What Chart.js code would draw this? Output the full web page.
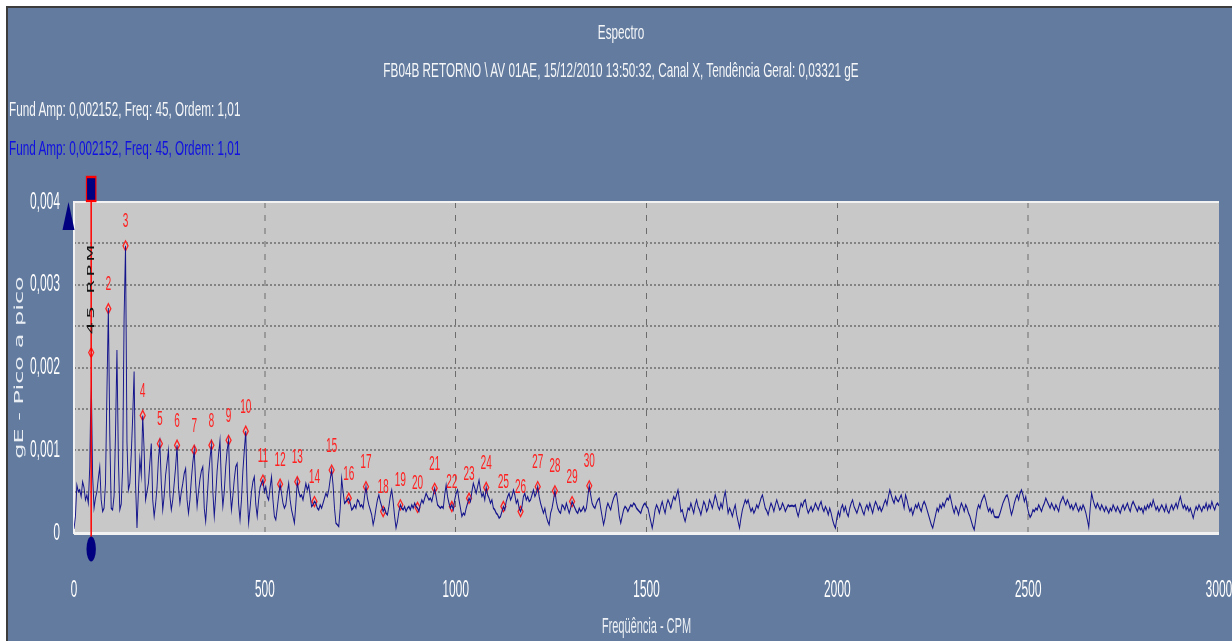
<!DOCTYPE html>
<html>
<head>
<meta charset="utf-8">
<title>Espectro</title>
<script src="https://cdn.jsdelivr.net/npm/chart.js@4.4.0/dist/chart.umd.min.js"></script>
<style>
  html, body { margin: 0; padding: 0; width: 1232px; height: 641px; overflow: hidden; background: #ffffff; }
  #frame { position: absolute; left: 6px; top: 6px; width: 1226px; height: 635px; box-sizing: border-box;
           background: #637b9e; border-left: 2px solid #3c3c3c; border-top: 2px solid #3c3c3c; }
  #stage { position: absolute; left: 0; top: 0; height: 641px; transform-origin: 0 0; }
  #stage canvas { position: absolute; left: 0; top: 0; }
  .txt { position: absolute; white-space: nowrap; font-family: "Liberation Sans", Arial, sans-serif;
         font-size: 21px; line-height: 24px; color: #f4f6f8; transform-origin: 0 0; transform: scaleX(1.12); }
  #title, #subtitle { transform: scaleX(1.12) translateX(-50%); }
  #info2 { color: #1010e0; }
</style>
</head>
<body>
<div id="frame"></div>
<div id="stage">
  <canvas id="spectrum"></canvas>
  <div class="txt" id="title">Espectro</div>
  <div class="txt" id="subtitle">FB04B RETORNO \ AV 01AE, 15/12/2010 13:50:32, Canal X, Tendência Geral: 0,03321 gE</div>
  <div class="txt" id="info1">Fund Amp: 0,002152, Freq: 45, Ordem: 1,01</div>
  <div class="txt" id="info2">Fund Amp: 0,002152, Freq: 45, Ordem: 1,01</div>
</div>
<script>
// spectrum lines every 3.75 CPM, amplitudes in units of 0.00001 gE
const spectrumStep = 3.75;

// 0 - 495 CPM
const ampA = [
  5, 20, 58, 50, 52, 44, 62, 55, 40, 46, 36, 80,
  193, 70, 30, 42, 50, 66, 80, 40, 26, 30, 60, 170,
  272, 120, 30, 28, 45, 120, 221, 90, 28, 35, 80, 260,
  347, 110, 52, 60, 95, 140, 195, 60, 6, 50, 90, 70,
  142, 100, 40, 50, 60, 85, 108, 40, 20, 35, 55, 90,
  108, 60, 28, 45, 70, 85, 100, 45, 28, 40, 60, 80,
  106, 55, 36, 50, 60, 72, 78, 40, 24, 40, 65, 85,
  100, 60, 32, 50, 65, 75, 80, 30, 14, 40, 70, 90,
  106, 50, 20, 45, 75, 95, 112, 60, 32, 50, 80, 100,
  112, 55, 28, 45, 65, 80, 84, 35, 16, 40, 75, 100,
  123, 50, 12, 30, 50, 62, 68, 35, 20, 40, 55, 60,
  64
];
// 498.75 - 997.5 CPM
const ampB = [
  50, 56, 44, 40, 55, 68, 40, 20, 16, 30,
  45, 59, 48, 36, 30, 34, 48, 60, 40, 28,
  20, 12, 35, 62, 50, 44, 46, 40, 50, 60,
  52, 58, 44, 32, 34, 38, 36, 30, 28, 34,
  30, 36, 42, 48, 44, 52, 65, 76, 58, 30,
  12, 10, 8, 30, 66, 50, 36, 38, 40, 42,
  36, 28, 30, 34, 30, 40, 38, 32, 34, 30,
  44, 56, 42, 34, 28, 22, 10, 18, 30, 40,
  46, 38, 32, 26, 30, 24, 22, 32, 44, 52,
  38, 20, 6, 14, 26, 34, 30, 28, 32, 26,
  30, 32, 28, 34, 30, 36, 32, 30, 26, 34,
  40, 36, 42, 48, 44, 40, 42, 38, 46, 54,
  44, 34, 32, 30, 32, 30, 46, 58, 44, 36,
  30, 34, 28, 40
];
// 1001.25 - 1500 CPM
const ampC = [
  48, 52, 40, 30, 20, 24, 22, 30, 36, 42,
  38, 50, 60, 54, 48, 56, 64, 52, 44, 48,
  40, 55, 46, 42, 36, 40, 30, 28, 24, 22,
  18, 20, 26, 32, 28, 38, 44, 48, 40, 44,
  52, 46, 36, 40, 30, 26, 32, 44, 48, 40,
  44, 38, 40, 46, 52, 44, 48, 56, 44, 36,
  30, 24, 30, 20, 14, 10, 24, 30, 40, 51,
  38, 30, 26, 24, 34, 32, 28, 36, 30, 24,
  30, 38, 34, 30, 26, 24, 30, 26, 28, 32,
  26, 30, 44, 57, 46, 36, 32, 30, 36, 40,
  42, 30, 20, 10, 18, 30, 36, 32, 28, 36,
  42, 46, 48, 36, 20, 12, 20, 28, 32, 30,
  26, 30, 34, 32, 36, 34, 30, 28, 26, 24,
  30, 34, 36, 32
];
// 1503.75 - 2250 CPM
const ampD = [
  30, 22, 14, 6, 16, 28, 34, 30, 24, 32,
  38, 30, 24, 34, 40, 36, 30, 38, 44, 40,
  46, 52, 40, 26, 28, 20, 14, 22, 30, 28,
  36, 30, 24, 34, 40, 32, 28, 22, 30, 38,
  34, 26, 30, 40, 36, 30, 38, 46, 40, 32,
  28, 36, 30, 42, 50, 38, 24, 30, 26, 20,
  28, 34, 22, 14, 6, 18, 28, 34, 40, 36,
  40, 32, 26, 30, 24, 28, 34, 30, 36, 42,
  46, 38, 30, 27, 22, 30, 36, 32, 26, 34,
  40, 34, 28, 30, 36, 32, 26, 30, 34, 32,
  33, 33, 32, 34, 26, 20, 28, 36, 32, 38,
  40, 30, 24, 28, 32, 26, 30, 36, 32, 28,
  34, 38, 30, 26, 32, 28, 22, 30, 24, 16,
  10, 6, 18, 26, 20, 30, 34, 26, 32, 24,
  20, 30, 36, 40, 32, 28, 24, 30, 36, 32,
  26, 22, 30, 34, 28, 36, 30, 24, 32, 38,
  34, 28, 32, 26, 30, 36, 40, 34, 44, 52,
  46, 40, 36, 44, 40, 38, 42, 46, 38, 30,
  46, 40, 32, 26, 30, 22, 28, 34, 30, 36,
  30, 26, 34, 38, 34, 28, 22, 16, 10, 6
];
// 2253.75 - 3000 CPM
const ampE = [
  14, 22, 30, 26, 34, 30, 36, 32, 38, 42,
  40, 46, 38, 30, 24, 32, 28, 22, 30, 36,
  32, 26, 34, 30, 24, 20, 14, 8, 4, 16,
  28, 34, 30, 38, 42, 46, 40, 32, 26, 30,
  24, 28, 20, 19, 19, 19, 24, 30, 36, 40,
  44, 46, 40, 30, 22, 28, 36, 42, 46, 40,
  48, 52, 46, 38, 44, 32, 24, 19, 22, 28,
  26, 30, 28, 34, 30, 26, 32, 36, 42, 38,
  34, 30, 36, 32, 28, 34, 30, 26, 36, 40,
  44, 38, 34, 40, 36, 30, 34, 28, 32, 36,
  30, 26, 32, 28, 34, 30, 24, 16, 7, 30,
  48, 40, 34, 30, 36, 32, 28, 34, 30, 26,
  32, 28, 24, 30, 27, 34, 30, 26, 32, 28,
  24, 30, 34, 28, 32, 36, 30, 26, 34, 38,
  34, 30, 26, 32, 28, 30, 24, 32, 28, 34,
  30, 36, 32, 40, 34, 28, 32, 26, 30, 34,
  30, 26, 34, 27, 24, 30, 34, 28, 32, 36,
  30, 38, 44, 36, 30, 34, 28, 32, 26, 30,
  24, 18, 26, 32, 28, 34, 30, 26, 32, 30,
  36, 28, 34, 30, 38, 32, 28, 34, 36, 33
];

// harmonic markers (order, CPM, amplitude in 0.00001 gE)
const orders = [1, 2, 3, 4, 5, 6, 7, 8, 9, 10, 11, 12, 13, 14, 15,
                16, 17, 18, 19, 20, 21, 22, 23, 24, 25, 26, 27, 28, 29, 30];
const orderFreqs = [45, 90, 135, 180, 225, 270, 315, 360, 405, 450, 495, 540, 585, 630, 675,
                    720, 765, 810, 855, 900, 945, 990, 1035, 1080, 1125, 1170, 1215, 1260, 1305, 1350];
const orderAmps = [218, 271, 347, 142, 108, 106, 100, 106, 112, 123, 64, 59, 62, 38, 76,
                   42, 56, 26, 34, 31, 54, 32, 42, 55, 32, 26, 56, 51, 38, 57];

const cursorFreq = 45;
const cursorLabel = '45 RPM';
const xTicks = [0, 500, 1000, 1500, 2000, 2500, 3000];

// the source picture is squeezed horizontally, so the chart is drawn wide and scaled down
const SQUEEZE = 0.5;
const PAGE_W = 1232, PAGE_H = 641;
const STAGE_W = Math.round(PAGE_W / SQUEEZE);
const u = x => x / SQUEEZE;

const stage = document.getElementById('stage');
stage.style.width = STAGE_W + 'px';
stage.style.transform = `scaleX(${SQUEEZE})`;

function place(id, left, top) {
    const el = document.getElementById(id);
    el.style.left = left + 'px';
    el.style.top = top + 'px';
}
place('title', u(621), 20);
place('subtitle', u(621), 58);
place('info1', u(9), 97);
place('info2', u(9), 136);

const amplitudes = [...ampA, ...ampB, ...ampC, ...ampD, ...ampE];
const spectrum = amplitudes.map((a, i) => ({ x: i * spectrumStep, y: a }));
const harmonics = orderFreqs.map((f, i) => ({ x: f, y: orderAmps[i] }));

function formatGE(v) {
    if (v === 0) return '0';
    return (v / 100000).toFixed(3).replace('.', ',');
}

const plotPanel = {
    id: 'plotPanel',
    beforeDraw(chart) {
        const { ctx, chartArea: a } = chart;
        ctx.save();
        ctx.fillStyle = '#c8c8c8';
        ctx.fillRect(a.left, a.top, a.right - a.left, a.bottom - a.top);
        ctx.restore();
    },
    beforeDatasetsDraw(chart) {
        const { ctx, chartArea: a } = chart;
        ctx.save();
        ctx.fillStyle = '#f2f2f2';
        ctx.fillRect(a.left, a.top - 1, a.right - a.left, 2);
        ctx.fillRect(a.left, a.bottom - 1, a.right - a.left, 3);
        ctx.fillRect(a.left - u(1), a.top - 1, u(2), a.bottom - a.top + 2);
        ctx.restore();
    }
};

const cursorPlugin = {
    id: 'cursorPlugin',
    afterDatasetsDraw(chart) {
        const { ctx, chartArea: a, scales: { x } } = chart;
        const cx = x.getPixelForValue(cursorFreq);
        ctx.save();

        // amplitude arrow on the y axis
        ctx.fillStyle = '#000080';
        ctx.beginPath();
        ctx.moveTo(a.left - u(5.5), a.top);
        ctx.lineTo(a.left + u(0.5), a.top + 28);
        ctx.lineTo(a.left - u(11.5), a.top + 28);
        ctx.closePath();
        ctx.fill();

        // cursor line
        ctx.strokeStyle = '#ff0000';
        ctx.lineWidth = u(1.5);
        ctx.beginPath();
        ctx.moveTo(cx, a.top - 24);
        ctx.lineTo(cx, a.bottom + 14);
        ctx.stroke();

        // handle on top
        ctx.fillStyle = '#000080';
        ctx.fillRect(cx - u(4.7), a.top - 25, u(9.4), 24);
        ctx.lineWidth = u(1.2);
        ctx.strokeRect(cx - u(4.7), a.top - 25, u(9.4), 24);

        // handle at bottom
        ctx.beginPath();
        ctx.ellipse(cx, a.bottom + 16, u(4.7), 12.5, 0, 0, Math.PI * 2);
        ctx.fill();

        // cursor label
        ctx.save();
        ctx.translate(cx, a.top + 86);
        ctx.rotate(-Math.PI / 2);
        ctx.font = '20px "DejaVu Sans", sans-serif';
        ctx.letterSpacing = '3px';
        ctx.fillStyle = '#141414';
        ctx.textAlign = 'center';
        ctx.textBaseline = 'middle';
        ctx.fillText(cursorLabel, 0, 0);
        ctx.restore();

        // order numbers over the harmonic markers
        const meta = chart.getDatasetMeta(1);
        ctx.font = '20px "Liberation Sans", Arial, sans-serif';
        ctx.fillStyle = '#ff2020';
        ctx.textAlign = 'center';
        ctx.textBaseline = 'middle';
        meta.data.forEach((pt, i) => {
            if (orders[i] === 1) return;
            ctx.fillText(String(orders[i]), pt.x, pt.y - 24);
        });
        ctx.restore();
    }
};

Chart.defaults.font.family = '"Liberation Sans", Arial, sans-serif';

const canvas = document.getElementById('spectrum');
canvas.width = STAGE_W;
canvas.height = PAGE_H;

new Chart(canvas, {
    type: 'line',
    data: {
        datasets: [
            {
                label: 'Espectro',
                data: spectrum,
                borderColor: '#14148c',
                borderWidth: 1.9,
                pointRadius: 0,
                tension: 0,
                fill: false
            },
            {
                label: 'Ordens',
                data: harmonics,
                showLine: false,
                pointStyle: 'rectRot',
                pointRadius: 5,
                pointBorderWidth: 2,
                pointBorderColor: '#ff2020',
                pointBackgroundColor: 'rgba(0,0,0,0)'
            }
        ]
    },
    options: {
        responsive: false,
        devicePixelRatio: 1,
        animation: false,
        events: [],
        layout: {
            padding: { left: 0, right: STAGE_W - u(1219), top: 202, bottom: 0 }
        },
        plugins: {
            legend: { display: false },
            tooltip: { enabled: false },
            title: { display: false }
        },
        scales: {
            x: {
                type: 'linear',
                min: 0,
                max: 3000,
                afterFit: (s) => { s.height = PAGE_H - 533; s.paddingLeft = 0; s.paddingRight = 0; },
                afterBuildTicks: (s) => { s.ticks = xTicks.map(v => ({ value: v })); },
                ticks: {
                    color: '#ffffff',
                    font: { size: 24 },
                    padding: 43,
                    maxRotation: 0,
                    callback: (v) => String(v)
                },
                grid: {
                    drawTicks: false,
                    lineWidth: u(1),
                    color: (c) => (c.tick && (c.tick.value === 0 || c.tick.value === 3000)) ? 'rgba(0,0,0,0)' : '#6c6c6c'
                },
                border: { display: false, dash: [6, 7] },
                title: {
                    display: true,
                    text: 'Freqüência - CPM',
                    color: '#eef2f6',
                    font: { size: 22 },
                    padding: { top: 0, bottom: 1 }
                }
            },
            y: {
                min: 0,
                max: 400,
                afterFit: (s) => { s.width = u(74); },
                ticks: {
                    stepSize: 50,
                    color: '#ffffff',
                    font: { size: 24 },
                    padding: u(14),
                    callback: (v) => (v % 100 === 0 ? formatGE(v) : '')
                },
                grid: {
                    drawTicks: false,
                    lineWidth: 2,
                    color: (c) => (c.tick && (c.tick.value === 0 || c.tick.value === 400)) ? 'rgba(0,0,0,0)' : '#838383'
                },
                border: { display: false, dash: [u(2), u(2)] },
                title: {
                    display: true,
                    text: 'gE - Pico a pico',
                    color: '#e8edf4',
                    font: { family: '"DejaVu Sans", sans-serif', size: 24 },
                    padding: { top: u(20) - 14.4, bottom: 0 }
                }
            }
        }
    },
    plugins: [plotPanel, cursorPlugin]
});
</script>
</body>
</html>
